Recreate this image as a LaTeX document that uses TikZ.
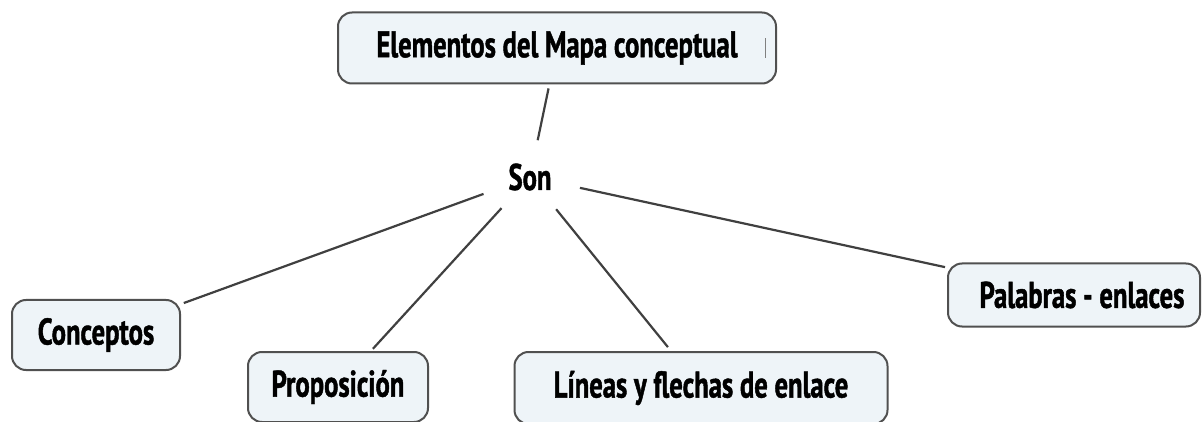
\documentclass[tikz,border=0pt]{standalone}
\usepackage{fontspec}
\setmainfont{PT Sans}[FakeStretch=0.72, BoldFeatures={FakeBold=1.2}]
\usetikzlibrary{shapes.geometric}

\definecolor{boxfill}{HTML}{EEF4F8}
\definecolor{boxline}{HTML}{505050}
\definecolor{linkline}{HTML}{404040}

\begin{document}
\begin{tikzpicture}[
  x=1pt, y=-1pt,
  font=\fontsize{37}{42}\selectfont\bfseries,
  concept/.style={draw=boxline, line width=2pt, rounded corners=14pt, fill=boxfill, inner sep=0pt},
  link/.style={draw=linkline, line width=2.2pt},
]
  \useasboundingbox (0,0) rectangle (1203,422);
  \clip (0,0) rectangle (1203,422);

  \node[concept, minimum width=438, minimum height=71] (elementos) at (557,48) {Elementos del Mapa conceptual\hspace{40pt}};
  \node[ellipse, minimum width=104, minimum height=74, inner sep=0pt] (son) at (530,177) {Son};

  \node[concept, minimum width=168, minimum height=70] (conceptos) at (96,335) {Conceptos};
  \node[concept, minimum width=180, minimum height=70] (proposicion) at (338,387) {Proposición};
  \node[concept, minimum width=373, minimum height=72] (lineas) at (701,388) {Líneas y flechas de enlace};
  \node[concept, minimum width=252, minimum height=63] (palabras) at (1074,295) {\hspace{16pt}Palabras - enlaces};

  % cursor mark in the title box
  \draw[gray, line width=1pt] ([xshift=-12pt, yshift=-10pt]elementos.east) -- ([xshift=-12pt, yshift=10pt]elementos.east);

  \draw[link, shorten <=4pt] (elementos) -- (son);
  \draw[link, shorten >=3pt] (son) -- (conceptos);
  \draw[link, shorten >=3pt] (son) -- (proposicion);
  \draw[link, shorten >=5pt] (son) -- (lineas);
  \draw[link, shorten >=2pt] (son) -- (palabras);
\end{tikzpicture}
\end{document}
